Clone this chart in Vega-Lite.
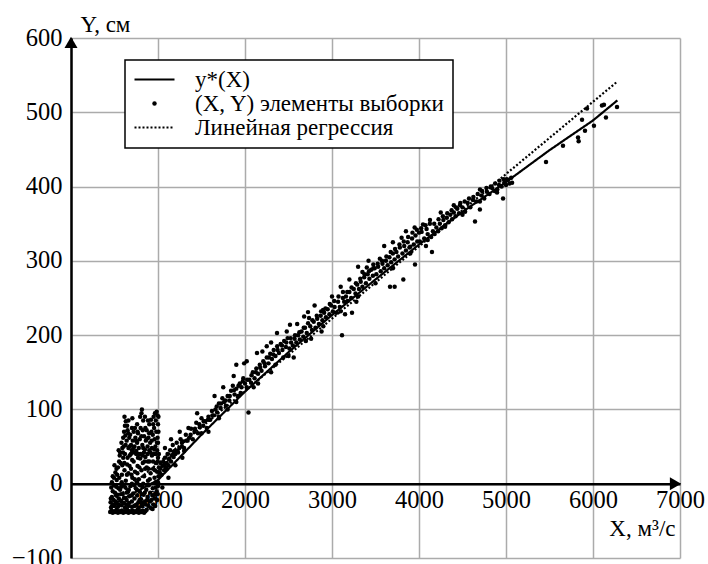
{
  "$schema": "https://vega.github.io/schema/vega-lite/v6.json",
  "autosize": {"type": "none"},
  "padding": {"left": 71, "top": 38, "right": 28, "bottom": 6},
  "width": 609,
  "height": 520,
  "background": "white",
  "config": {
    "font": "Liberation Serif",
    "view": {"stroke": null},
    "axis": {
      "labelFont": "Liberation Serif",
      "labelFontSize": 24.5,
      "labelColor": "black",
      "titleFont": "Liberation Serif",
      "titleFontSize": 23,
      "titleFontWeight": "normal",
      "titleColor": "black",
      "gridColor": "#ababab",
      "gridWidth": 1.5,
      "gridOpacity": 1,
      "domainColor": "black",
      "domainWidth": 2.5,
      "ticks": false
    }
  },
  "datasets": {
    "pts": [
      {"X":450,"Y":-38},{"X":465,"Y":-36},{"X":480,"Y":-39},{"X":495,"Y":-37},{"X":510,"Y":-38},{"X":525,"Y":-35},{"X":540,"Y":-39},{"X":555,"Y":-37},{"X":570,"Y":-38},{"X":585,"Y":-36},{"X":600,"Y":-39},{"X":615,"Y":-37},{"X":630,"Y":-38},{"X":645,"Y":-35},{"X":660,"Y":-39},{"X":675,"Y":-37},{"X":690,"Y":-38},{"X":705,"Y":-36},{"X":720,"Y":-39},{"X":735,"Y":-37},{"X":750,"Y":-38},{"X":765,"Y":-35},{"X":780,"Y":-39},{"X":795,"Y":-37},{"X":810,"Y":-38},{"X":825,"Y":-36},{"X":840,"Y":-39},{"X":855,"Y":-37},{"X":870,"Y":-35},
      {"X":460,"Y":-32},{"X":500,"Y":-30},{"X":540,"Y":-31},{"X":580,"Y":-29},{"X":620,"Y":-32},{"X":660,"Y":-30},{"X":700,"Y":-31},{"X":740,"Y":-29},{"X":780,"Y":-32},{"X":820,"Y":-30},{"X":860,"Y":-28},
      {"X":455,"Y":-25},{"X":470,"Y":-18},{"X":490,"Y":-22},{"X":505,"Y":-12},{"X":520,"Y":-26},{"X":535,"Y":-15},{"X":550,"Y":-20},{"X":565,"Y":-8},{"X":580,"Y":-24},{"X":595,"Y":-14},{"X":610,"Y":-19},{"X":625,"Y":-5},{"X":640,"Y":-22},{"X":655,"Y":-11},{"X":670,"Y":-17},{"X":685,"Y":-3},{"X":700,"Y":-24},{"X":715,"Y":-13},{"X":730,"Y":-20},{"X":745,"Y":-6},{"X":760,"Y":-16},{"X":775,"Y":-25},{"X":790,"Y":-10},{"X":805,"Y":-21},{"X":820,"Y":-4},{"X":835,"Y":-15},{"X":850,"Y":-24},{"X":865,"Y":-8},{"X":880,"Y":-18},{"X":895,"Y":-2},{"X":910,"Y":-12},{"X":925,"Y":-22},{"X":940,"Y":-6},{"X":955,"Y":-15},{"X":985,"Y":-10},{"X":1000,"Y":-3},{"X":890,"Y":-30},{"X":920,"Y":-33},
      {"X":470,"Y":2},{"X":480,"Y":10},{"X":495,"Y":-2},{"X":510,"Y":15},{"X":525,"Y":5},{"X":540,"Y":22},{"X":555,"Y":8},{"X":570,"Y":28},{"X":585,"Y":12},{"X":600,"Y":35},{"X":615,"Y":18},{"X":630,"Y":4},{"X":645,"Y":26},{"X":660,"Y":14},{"X":675,"Y":38},{"X":690,"Y":20},{"X":705,"Y":8},{"X":720,"Y":30},{"X":735,"Y":16},{"X":750,"Y":40},{"X":765,"Y":24},{"X":780,"Y":6},{"X":795,"Y":34},{"X":810,"Y":18},{"X":825,"Y":28},{"X":840,"Y":10},{"X":855,"Y":36},{"X":870,"Y":22},{"X":885,"Y":4},{"X":900,"Y":30},{"X":915,"Y":14},{"X":930,"Y":38},{"X":945,"Y":20},{"X":960,"Y":8},{"X":975,"Y":28},{"X":990,"Y":16},{"X":1000,"Y":2},{"X":500,"Y":25},{"X":560,"Y":38},{"X":620,"Y":40},{"X":700,"Y":0},{"X":760,"Y":2},{"X":830,"Y":0},{"X":880,"Y":40},
      {"X":565,"Y":42},{"X":580,"Y":55},{"X":590,"Y":48},{"X":600,"Y":62},{"X":610,"Y":70},{"X":620,"Y":78},{"X":630,"Y":84},{"X":625,"Y":65},{"X":640,"Y":58},{"X":650,"Y":72},{"X":660,"Y":48},{"X":670,"Y":62},{"X":680,"Y":66},{"X":690,"Y":52},{"X":700,"Y":45},{"X":710,"Y":58},{"X":720,"Y":70},{"X":730,"Y":50},{"X":740,"Y":62},{"X":750,"Y":44},{"X":760,"Y":55},{"X":770,"Y":68},{"X":780,"Y":48},{"X":790,"Y":60},{"X":800,"Y":75},{"X":810,"Y":95},{"X":815,"Y":100},{"X":820,"Y":52},{"X":830,"Y":85},{"X":840,"Y":64},{"X":850,"Y":46},{"X":860,"Y":58},{"X":870,"Y":72},{"X":880,"Y":50},{"X":890,"Y":62},{"X":900,"Y":80},{"X":910,"Y":55},{"X":920,"Y":86},{"X":930,"Y":48},{"X":940,"Y":66},{"X":950,"Y":90},{"X":955,"Y":75},{"X":960,"Y":60},{"X":965,"Y":95},{"X":970,"Y":50},{"X":975,"Y":85},{"X":980,"Y":70},{"X":985,"Y":97},{"X":990,"Y":45},{"X":995,"Y":62},{"X":1000,"Y":80},{"X":1005,"Y":90},{"X":1000,"Y":55},{"X":1010,"Y":40},{"X":850,"Y":90},{"X":760,"Y":80},{"X":700,"Y":75},{"X":660,"Y":85},{"X":900,"Y":45},{"X":800,"Y":40},{"X":740,"Y":42},
      {"X":475,"Y":-30},{"X":515,"Y":-24},{"X":545,"Y":-6},{"X":575,"Y":-14},{"X":605,"Y":-2},{"X":635,"Y":-28},{"X":665,"Y":-8},{"X":695,"Y":12},{"X":725,"Y":-2},{"X":755,"Y":-28},{"X":785,"Y":22},{"X":815,"Y":-14},{"X":845,"Y":30},{"X":875,"Y":-22},{"X":905,"Y":6},{"X":935,"Y":-16},{"X":965,"Y":18},{"X":995,"Y":30},{"X":530,"Y":12},{"X":590,"Y":25},{"X":650,"Y":35},{"X":710,"Y":42},{"X":770,"Y":35},{"X":830,"Y":48},{"X":890,"Y":20},{"X":950,"Y":40},{"X":605,"Y":50},{"X":675,"Y":50},{"X":735,"Y":75},{"X":795,"Y":90},{"X":855,"Y":75},{"X":925,"Y":70},{"X":975,"Y":40},{"X":1005,"Y":70},{"X":945,"Y":-28},{"X":960,"Y":-20},{"X":975,"Y":-5},{"X":990,"Y":-22},{"X":480,"Y":-10},{"X":520,"Y":-4},
      {"X":458,"Y":-20},{"X":488,"Y":-28},{"X":518,"Y":-16},{"X":548,"Y":-28},{"X":578,"Y":-4},{"X":608,"Y":-26},{"X":638,"Y":-12},{"X":668,"Y":-26},{"X":698,"Y":-16},{"X":728,"Y":-30},{"X":758,"Y":-8},{"X":788,"Y":-22},{"X":818,"Y":-26},{"X":848,"Y":-12},{"X":878,"Y":-2},{"X":908,"Y":-24},{"X":938,"Y":-34},{"X":968,"Y":-30},{"X":998,"Y":-14},{"X":463,"Y":-5},{"X":493,"Y":8},{"X":523,"Y":20},{"X":553,"Y":30},{"X":583,"Y":2},{"X":613,"Y":28},{"X":643,"Y":12},{"X":673,"Y":24},{"X":703,"Y":32},{"X":733,"Y":6},{"X":763,"Y":14},{"X":793,"Y":-2},{"X":823,"Y":38},{"X":853,"Y":20},{"X":883,"Y":30},{"X":913,"Y":42},{"X":943,"Y":30},{"X":973,"Y":2},{"X":548,"Y":45},{"X":598,"Y":42},{"X":628,"Y":52},{"X":658,"Y":68},{"X":688,"Y":40},{"X":718,"Y":48},{"X":748,"Y":58},{"X":778,"Y":40},{"X":808,"Y":64},{"X":838,"Y":42},{"X":868,"Y":60},{"X":898,"Y":68},{"X":928,"Y":58},{"X":958,"Y":46},{"X":988,"Y":55},{"X":615,"Y":90},{"X":645,"Y":78},{"X":705,"Y":88},{"X":765,"Y":70},{"X":825,"Y":72},{"X":885,"Y":85},{"X":945,"Y":80},{"X":995,"Y":92},
      {"X":1005,"Y":10},{"X":1010,"Y":22},{"X":1020,"Y":15},{"X":1030,"Y":28},{"X":1040,"Y":12},{"X":1050,"Y":24},{"X":1060,"Y":30},{"X":1070,"Y":18},{"X":1080,"Y":35},{"X":1090,"Y":22},{"X":1100,"Y":28},{"X":1110,"Y":40},{"X":1120,"Y":25},{"X":1130,"Y":34},{"X":1140,"Y":45},{"X":1150,"Y":30},{"X":1160,"Y":38},{"X":1170,"Y":52},{"X":1180,"Y":36},{"X":1190,"Y":44},{"X":1200,"Y":40},{"X":1215,"Y":55},{"X":1230,"Y":42},{"X":1245,"Y":48},{"X":1260,"Y":60},{"X":1275,"Y":50},{"X":1290,"Y":57},{"X":1300,"Y":48},{"X":1320,"Y":66},{"X":1340,"Y":58},{"X":1360,"Y":62},{"X":1380,"Y":74},{"X":1400,"Y":60},{"X":1420,"Y":70},{"X":1440,"Y":82},{"X":1460,"Y":68},{"X":1480,"Y":76},{"X":1500,"Y":88},{"X":1050,"Y":-5},{"X":1120,"Y":8},{"X":1200,"Y":25},{"X":1280,"Y":35},{"X":1350,"Y":75},{"X":1450,"Y":95},{"X":1250,"Y":70},{"X":1150,"Y":60},{"X":1000,"Y":35},{"X":1080,"Y":48},
      {"X":1520,"Y":78},{"X":1540,"Y":84},{"X":1560,"Y":75},{"X":1580,"Y":90},{"X":1600,"Y":86},{"X":1620,"Y":98},{"X":1640,"Y":92},{"X":1660,"Y":100},{"X":1680,"Y":96},{"X":1700,"Y":108},{"X":1720,"Y":102},{"X":1740,"Y":115},{"X":1760,"Y":110},{"X":1780,"Y":105},{"X":1800,"Y":118},{"X":1820,"Y":112},{"X":1840,"Y":125},{"X":1860,"Y":132},{"X":1880,"Y":120},{"X":1900,"Y":128},{"X":1920,"Y":118},{"X":1940,"Y":135},{"X":1960,"Y":130},{"X":1980,"Y":142},{"X":2000,"Y":135},{"X":1650,"Y":118},{"X":1750,"Y":130},{"X":1700,"Y":88},{"X":1870,"Y":145},{"X":1900,"Y":160},{"X":1990,"Y":162},{"X":2020,"Y":165},{"X":1580,"Y":70},{"X":1800,"Y":100},{"X":1950,"Y":122},
      {"X":2020,"Y":130},{"X":2040,"Y":96},{"X":2050,"Y":140},{"X":2070,"Y":136},{"X":2090,"Y":150},{"X":2110,"Y":142},{"X":2130,"Y":155},{"X":2150,"Y":148},{"X":2170,"Y":160},{"X":2190,"Y":152},{"X":2210,"Y":165},{"X":2230,"Y":158},{"X":2250,"Y":170},{"X":2270,"Y":162},{"X":2290,"Y":175},{"X":2310,"Y":168},{"X":2330,"Y":180},{"X":2350,"Y":172},{"X":2370,"Y":185},{"X":2390,"Y":176},{"X":2410,"Y":188},{"X":2430,"Y":180},{"X":2450,"Y":192},{"X":2470,"Y":184},{"X":2490,"Y":196},{"X":2250,"Y":185},{"X":2300,"Y":190},{"X":2200,"Y":178},{"X":2368,"Y":203},{"X":2480,"Y":205},{"X":2150,"Y":135},{"X":2350,"Y":160},{"X":2440,"Y":170},{"X":2138,"Y":176},
      {"X":2510,"Y":182},{"X":2530,"Y":190},{"X":2517,"Y":214},{"X":2550,"Y":186},{"X":2570,"Y":195},{"X":2590,"Y":190},{"X":2610,"Y":200},{"X":2630,"Y":194},{"X":2650,"Y":205},{"X":2670,"Y":198},{"X":2690,"Y":210},{"X":2710,"Y":203},{"X":2724,"Y":231},{"X":2736,"Y":223},{"X":2750,"Y":212},{"X":2770,"Y":207},{"X":2790,"Y":218},{"X":2810,"Y":210},{"X":2830,"Y":222},{"X":2850,"Y":215},{"X":2870,"Y":226},{"X":2890,"Y":220},{"X":2897,"Y":234},{"X":2910,"Y":230},{"X":2930,"Y":224},{"X":2950,"Y":235},{"X":2970,"Y":228},{"X":2990,"Y":240},{"X":3000,"Y":252},{"X":2600,"Y":215},{"X":2680,"Y":225},{"X":2800,"Y":240},{"X":2560,"Y":170},{"X":2760,"Y":195},{"X":2880,"Y":205},
      {"X":3010,"Y":232},{"X":3030,"Y":238},{"X":3050,"Y":230},{"X":3070,"Y":245},{"X":3090,"Y":238},{"X":3115,"Y":200},{"X":3126,"Y":258},{"X":3140,"Y":245},{"X":3160,"Y":252},{"X":3180,"Y":246},{"X":3200,"Y":258},{"X":3220,"Y":250},{"X":3230,"Y":230},{"X":3250,"Y":262},{"X":3270,"Y":256},{"X":3290,"Y":268},{"X":3300,"Y":292},{"X":3310,"Y":262},{"X":3330,"Y":272},{"X":3350,"Y":265},{"X":3370,"Y":278},{"X":3390,"Y":270},{"X":3400,"Y":291},{"X":3410,"Y":282},{"X":3430,"Y":276},{"X":3450,"Y":288},{"X":3470,"Y":280},{"X":3475,"Y":295},{"X":3490,"Y":290},{"X":3100,"Y":265},{"X":3200,"Y":275},{"X":3350,"Y":285},{"X":3420,"Y":300},{"X":3150,"Y":228},{"X":3280,"Y":245},
      {"X":3510,"Y":282},{"X":3530,"Y":292},{"X":3550,"Y":303},{"X":3560,"Y":286},{"X":3580,"Y":296},{"X":3600,"Y":290},{"X":3620,"Y":300},{"X":3640,"Y":294},{"X":3660,"Y":305},{"X":3667,"Y":265},{"X":3680,"Y":298},{"X":3700,"Y":310},{"X":3720,"Y":265},{"X":3720,"Y":302},{"X":3740,"Y":312},{"X":3760,"Y":306},{"X":3780,"Y":318},{"X":3800,"Y":331},{"X":3810,"Y":310},{"X":3820,"Y":275},{"X":3830,"Y":320},{"X":3850,"Y":314},{"X":3870,"Y":325},{"X":3890,"Y":318},{"X":3900,"Y":319},{"X":3920,"Y":330},{"X":3940,"Y":322},{"X":3960,"Y":334},{"X":3980,"Y":326},{"X":4000,"Y":338},{"X":3600,"Y":320},{"X":3700,"Y":325},{"X":3850,"Y":340},{"X":3950,"Y":345},
      {"X":4010,"Y":326},{"X":4030,"Y":339},{"X":4046,"Y":349},{"X":4060,"Y":330},{"X":4087,"Y":343},{"X":4100,"Y":336},{"X":4126,"Y":355},{"X":4140,"Y":332},{"X":4149,"Y":312},{"X":4160,"Y":340},{"X":4180,"Y":336},{"X":4200,"Y":345},{"X":4220,"Y":340},{"X":4240,"Y":350},{"X":4260,"Y":344},{"X":4280,"Y":355},{"X":4300,"Y":348},{"X":4320,"Y":358},{"X":4340,"Y":352},{"X":4360,"Y":362},{"X":4380,"Y":356},{"X":4400,"Y":365},{"X":4420,"Y":360},{"X":4440,"Y":370},{"X":4460,"Y":364},{"X":4471,"Y":375},{"X":4500,"Y":372},{"X":4530,"Y":366},{"X":4560,"Y":378},{"X":4590,"Y":372},{"X":4620,"Y":382},{"X":4644,"Y":353},{"X":4660,"Y":380},{"X":4700,"Y":369},{"X":4701,"Y":396},{"X":4720,"Y":388},{"X":4750,"Y":384},{"X":4780,"Y":393},{"X":4810,"Y":390},{"X":4840,"Y":398},{"X":4870,"Y":394},{"X":4897,"Y":392},{"X":4920,"Y":402},{"X":4950,"Y":400},{"X":4966,"Y":384},{"X":4980,"Y":405},{"X":5000,"Y":402},{"X":5010,"Y":410},{"X":5023,"Y":409},{"X":5040,"Y":404},{"X":5060,"Y":412},{"X":5070,"Y":405},{"X":3954,"Y":295},{"X":4080,"Y":320},{"X":4250,"Y":365},{"X":4400,"Y":375},
      {"X":1025,"Y":20},{"X":1075,"Y":26},{"X":1125,"Y":33},{"X":1175,"Y":40},{"X":1225,"Y":44},{"X":1275,"Y":55},{"X":1325,"Y":58},{"X":1375,"Y":66},{"X":1425,"Y":74},{"X":1475,"Y":80},{"X":1525,"Y":84},{"X":1575,"Y":86},{"X":1625,"Y":92},{"X":1675,"Y":104},{"X":1725,"Y":108},{"X":1775,"Y":112},{"X":1825,"Y":118},{"X":1875,"Y":126},{"X":1925,"Y":132},{"X":1975,"Y":138},{"X":2025,"Y":140},{"X":2075,"Y":146},{"X":2125,"Y":150},{"X":2175,"Y":156},{"X":2225,"Y":162},{"X":2275,"Y":170},{"X":2325,"Y":174},{"X":2375,"Y":180},{"X":2425,"Y":186},{"X":2475,"Y":190},{"X":2525,"Y":196},{"X":2575,"Y":200},{"X":2625,"Y":204},{"X":2675,"Y":210},{"X":2725,"Y":216},{"X":2775,"Y":220},{"X":2825,"Y":226},{"X":2875,"Y":232},{"X":2925,"Y":236},{"X":2975,"Y":242},{"X":3025,"Y":246},{"X":3075,"Y":252},{"X":3125,"Y":250},{"X":3175,"Y":258},{"X":3225,"Y":264},{"X":3275,"Y":270},{"X":3325,"Y":276},{"X":3375,"Y":282},{"X":3425,"Y":286},{"X":3475,"Y":290},{"X":3525,"Y":296},{"X":3575,"Y":300},{"X":3625,"Y":306},{"X":3675,"Y":312},{"X":3725,"Y":316},{"X":3775,"Y":322},{"X":3825,"Y":326},{"X":3875,"Y":332},{"X":3925,"Y":338},{"X":3975,"Y":342},{"X":4025,"Y":344},{"X":4075,"Y":348},{"X":4125,"Y":350},{"X":4175,"Y":350},{"X":4225,"Y":356},{"X":4275,"Y":360},{"X":4325,"Y":364},{"X":4375,"Y":368},{"X":4425,"Y":372},{"X":4475,"Y":378},{"X":4525,"Y":380},{"X":4575,"Y":384},{"X":4625,"Y":386},{"X":4675,"Y":390},{"X":4725,"Y":394},{"X":4775,"Y":398},{"X":4825,"Y":400},{"X":4875,"Y":404},{"X":4925,"Y":408},{"X":4975,"Y":410},
      {"X":1100,"Y":20},{"X":1300,"Y":44},{"X":1500,"Y":68},{"X":1700,"Y":90},{"X":1900,"Y":110},{"X":2100,"Y":130},{"X":2300,"Y":150},{"X":2500,"Y":172},{"X":2700,"Y":192},{"X":2900,"Y":212},{"X":3100,"Y":232},{"X":3300,"Y":252},{"X":3500,"Y":270},{"X":3700,"Y":290},{"X":3900,"Y":310},{"X":4100,"Y":328},{"X":4300,"Y":346},{"X":4500,"Y":362},{"X":4700,"Y":380},{"X":4900,"Y":396},
      {"X":5460,"Y":433},{"X":5655,"Y":455},{"X":5828,"Y":466},{"X":5835,"Y":461},{"X":5908,"Y":475},{"X":5874,"Y":490},{"X":5931,"Y":505},{"X":6011,"Y":482},{"X":6103,"Y":509},{"X":6126,"Y":510},{"X":6149,"Y":493},{"X":6276,"Y":507}
    ],
    "curves": [
      {"X":450,"Y":-30,"series":"y*(X)"},{"X":700,"Y":-14,"series":"y*(X)"},{"X":1000,"Y":5,"series":"y*(X)"},{"X":1500,"Y":66,"series":"y*(X)"},{"X":2000,"Y":124,"series":"y*(X)"},{"X":2500,"Y":177,"series":"y*(X)"},{"X":3000,"Y":227,"series":"y*(X)"},{"X":3500,"Y":275,"series":"y*(X)"},{"X":4000,"Y":322,"series":"y*(X)"},{"X":4500,"Y":366,"series":"y*(X)"},{"X":5000,"Y":406,"series":"y*(X)"},{"X":5500,"Y":449,"series":"y*(X)"},{"X":6000,"Y":489,"series":"y*(X)"},{"X":6280,"Y":516,"series":"y*(X)"},
      {"X":450,"Y":-26,"series":"Линейная регрессия"},{"X":6276,"Y":541,"series":"Линейная регрессия"}
    ],
    "arrows": [
      {"X":0,"Y":594,"shape":"triangle-up"},
      {"X":6948,"Y":0,"shape":"triangle-right"}
    ]
  },
  "encoding": {
    "x": {
      "field": "X", "type": "quantitative",
      "scale": {"domain": [0, 7000], "nice": false, "zero": false},
      "axis": {
        "values": [0,1000,2000,3000,4000,5000,6000,7000],
        "format": "d",
        "labelExpr": "datum.value === 0 ? '' : datum.label",
        "offset": -74.3,
        "grid": true,
        "labelPadding": 5,
        "labelFlush": false,
        "title": "X, м³/с",
        "titleX": 604, "titleY": 45,
        "titleAlign": "right", "titleBaseline": "middle", "titleAnchor": null
      }
    },
    "y": {
      "field": "Y", "type": "quantitative",
      "scale": {"domain": [-100, 600], "nice": false, "zero": false},
      "axis": {
        "values": [-100,0,100,200,300,400,500,600],
        "format": "d",
        "grid": true,
        "labelPadding": 9,
        "labelFlush": false,
        "title": "Y, см",
        "titleAngle": 0,
        "titleX": 9, "titleY": -14,
        "titleAlign": "left", "titleBaseline": "middle", "titleAnchor": null
      }
    }
  },
  "layer": [
    {
      "data": {"name": "pts"},
      "mark": {"type": "point", "filled": true, "color": "black", "size": 20, "opacity": 1}
    },
    {
      "data": {"name": "curves"},
      "mark": {"type": "line", "color": "black", "strokeWidth": 2.2},
      "encoding": {
        "strokeDash": {
          "field": "series", "type": "nominal",
          "scale": {
            "domain": ["y*(X)", "(X, Y) элементы выборки", "Линейная регрессия"],
            "range": [[1, 0], [1, 0], [2, 2]]
          },
          "legend": {
            "title": null,
            "orient": "none",
            "legendX": 54,
            "legendY": 22,
            "padding": 8,
            "fillColor": "white",
            "strokeColor": "black",
            "symbolSize": 400,
            "symbolOffset": 10,
            "symbolStrokeWidth": 2,
            "symbolStrokeColor": "black",
            "labelFont": "Liberation Serif",
            "labelFontSize": 23,
            "labelColor": "black",
            "labelOffset": 29,
            "labelLimit": 400,
            "rowPadding": 0,
            "encode": {
              "legend": {"update": {"strokeWidth": {"value": 1.5}}},
              "symbols": {
                "update": {
                  "shape": {"signal": "datum.value === '(X, Y) элементы выборки' ? 'circle' : 'M-2,0L2,0'"},
                  "size": {"signal": "datum.value === '(X, Y) элементы выборки' ? 20 : 400"},
                  "fill": {"signal": "datum.value === '(X, Y) элементы выборки' ? 'black' : 'transparent'"},
                  "stroke": {"signal": "datum.value === '(X, Y) элементы выборки' ? 'transparent' : 'black'"},
                  "strokeDash": {"signal": "datum.value === 'Линейная регрессия' ? [2, 2] : [1, 0]"},
                  "strokeWidth": {"value": 2}
                }
              }
            }
          }
        }
      }
    },
    {
      "data": {"name": "arrows"},
      "mark": {"type": "point", "filled": true, "color": "black", "size": 169, "opacity": 1},
      "encoding": {
        "shape": {"field": "shape", "type": "nominal", "scale": null}
      }
    }
  ]
}
